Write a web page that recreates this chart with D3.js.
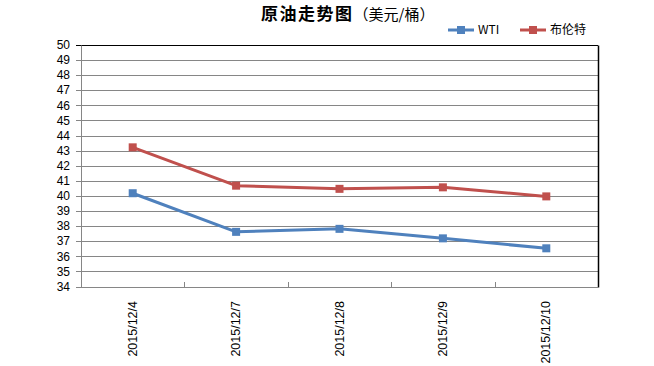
<!DOCTYPE html>
<html><head><meta charset="utf-8">
<script src="https://cdn.jsdelivr.net/npm/d3@7"></script>
<style>body{margin:0;background:#fff;} svg{display:block;font-family:"Liberation Sans",Arial,sans-serif;}</style>
</head><body><svg id="c" width="654" height="366"></svg>
<script>
const categories = ["2015/12/4","2015/12/7","2015/12/8","2015/12/9","2015/12/10"];
const wti = [40.18, 37.62, 37.82, 37.19, 36.53];
const brent = [43.22, 40.68, 40.47, 40.57, 39.97];
const seriesNames = ["WTI","布伦特"];
const seriesColors = ["#4F81BD","#C0504D"];
const yTicks = d3.range(34, 51, 1);

const svg = d3.select("#c");
const L = 81, R = 598, T = 45, B = 286.5;
const x = d3.scaleBand().domain(categories).range([L, R]).padding(0);
const y = d3.scaleLinear().domain([34, 50]).range([B, T]);

// gridlines
svg.append("g").selectAll("line").data(yTicks).join("line")
  .attr("x1", L - 5).attr("x2", R).attr("y1", d => Math.round(y(d)) + 0.5).attr("y2", d => Math.round(y(d)) + 0.5)
  .attr("stroke", d => d === 50 ? "#000" : "#868686").attr("stroke-width", 1);
// right border
svg.append("line").attr("x1", R + 0.5).attr("x2", R + 0.5).attr("y1", Math.round(T) + 0.5).attr("y2", Math.round(B) + 0.5)
  .attr("stroke", "#000").attr("stroke-width", 1.5);
// y axis
svg.append("line").attr("x1", L + 0.5).attr("x2", L + 0.5).attr("y1", Math.round(T) + 0.5).attr("y2", Math.round(B) + 0.5)
  .attr("stroke", "#868686");
// x axis line
svg.append("line").attr("x1", L).attr("x2", R).attr("y1", Math.round(B) + 0.5).attr("y2", Math.round(B) + 0.5)
  .attr("stroke", "#868686");
// x ticks at category boundaries
svg.append("g").selectAll("line").data(categories.slice(1)).join("line")
  .attr("x1", d => Math.round(x(d)) + 0.5).attr("x2", d => Math.round(x(d)) + 0.5)
  .attr("y1", Math.round(B) - 5).attr("y2", Math.round(B))
  .attr("stroke", "#868686");

// y labels
svg.append("g").selectAll("text").data(yTicks).join("text")
  .attr("x", 70).attr("y", d => y(d)).attr("dy", "0.35em")
  .attr("text-anchor", "end").attr("font-size", 12).attr("fill", "#000").text(d => d);

// x labels
svg.append("g").selectAll("text").data(categories).join("text")
  .attr("transform", d => `translate(${x(d) + x.bandwidth() / 2 + 4},301) rotate(-90)`)
  .attr("text-anchor", "end").attr("font-size", 12.5).attr("fill", "#000").text(d => d);

// series
const line = d3.line().x((d, i) => x(categories[i]) + x.bandwidth() / 2).y(d => y(d));
[wti, brent].forEach((vals, si) => {
  svg.append("path").attr("d", line(vals)).attr("fill", "none")
    .attr("stroke", seriesColors[si]).attr("stroke-width", 3).attr("stroke-linejoin", "round");
  svg.append("g").selectAll("rect").data(vals).join("rect")
    .attr("x", (d, i) => x(categories[i]) + x.bandwidth() / 2 - 4)
    .attr("y", d => y(d) - 4).attr("width", 8).attr("height", 8)
    .attr("fill", seriesColors[si]);
});

// title
const title = svg.append("text").attr("x", 261).attr("y", 20).attr("fill", "#000")
  .attr("font-family", "'Noto Sans CJK SC',sans-serif");
title.append("tspan").attr("font-size", 17).attr("font-weight", "bold").attr("letter-spacing", 1.5).text("原油走势图");
title.append("tspan").attr("font-size", 15).text("（美元/桶）");

// legend
const legX = [448, 520];
seriesNames.forEach((n, i) => {
  const g = svg.append("g");
  g.append("line").attr("x1", legX[i]).attr("x2", legX[i] + 26).attr("y1", 30).attr("y2", 30)
    .attr("stroke", seriesColors[i]).attr("stroke-width", 3);
  g.append("rect").attr("x", legX[i] + 9).attr("y", 26).attr("width", 8).attr("height", 8).attr("fill", seriesColors[i]);
  g.append("text").attr("x", legX[i] + 30).attr("y", 30).attr("dy", "0.35em").attr("font-size", 12)
    .attr("font-family", "'Noto Sans CJK SC','Liberation Sans',sans-serif").attr("fill", "#000").text(n);
});
</script></body></html>
